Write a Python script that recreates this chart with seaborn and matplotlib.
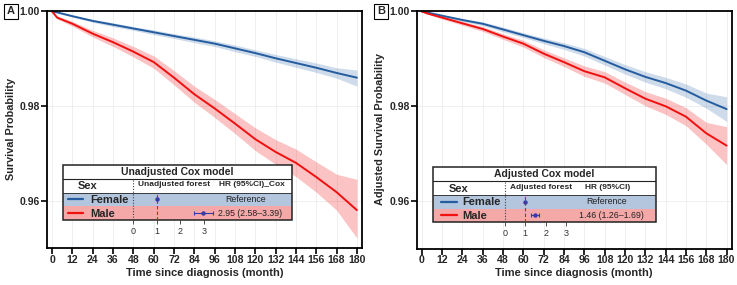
import numpy as np
import pandas as pd
import matplotlib
matplotlib.use("Agg")
import matplotlib.pyplot as plt
import matplotlib.transforms as mtransforms
from matplotlib.patches import Rectangle
import seaborn as sns

# ---- data ----
months = [0, 3, 12, 24, 36, 48, 60, 72, 84, 96, 108, 120, 132, 144, 156, 168, 180]

# panel A: unadjusted KM
a_female = [1.0, 0.9998, 0.9990, 0.9980, 0.9972, 0.9964, 0.9956, 0.9948, 0.9940, 0.9932, 0.9922, 0.9912, 0.9901, 0.9891, 0.9881, 0.9870, 0.9860]
a_female_lo = [1.0, 0.9997, 0.9988, 0.9977, 0.9968, 0.9960, 0.9951, 0.9943, 0.9934, 0.9926, 0.9915, 0.9905, 0.9893, 0.9882, 0.9871, 0.9859, 0.9842]
a_female_hi = [1.0, 0.9999, 0.9992, 0.9983, 0.9976, 0.9968, 0.9961, 0.9953, 0.9946, 0.9938, 0.9929, 0.9919, 0.9909, 0.9900, 0.9891, 0.9881, 0.9876]
a_male = [1.0, 0.9987, 0.9974, 0.9953, 0.9935, 0.9915, 0.9893, 0.9860, 0.9825, 0.9795, 0.9763, 0.9730, 0.9703, 0.9680, 0.9650, 0.9618, 0.9580]
a_male_lo = [1.0, 0.9984, 0.9969, 0.9946, 0.9926, 0.9904, 0.9880, 0.9845, 0.9808, 0.9776, 0.9742, 0.9706, 0.9677, 0.9651, 0.9618, 0.9580, 0.9521]
a_male_hi = [1.0, 0.9990, 0.9979, 0.9960, 0.9944, 0.9926, 0.9906, 0.9875, 0.9842, 0.9814, 0.9784, 0.9754, 0.9729, 0.9709, 0.9682, 0.9656, 0.9645]

# panel B: adjusted survival
b_female = [1.0, 0.9998, 0.9991, 0.9982, 0.9974, 0.9962, 0.9950, 0.9938, 0.9927, 0.9914, 0.9896, 0.9878, 0.9862, 0.9849, 0.9833, 0.9812, 0.9794]
b_female_lo = [1.0, 0.9997, 0.9989, 0.9979, 0.9970, 0.9957, 0.9945, 0.9932, 0.9920, 0.9906, 0.9887, 0.9868, 0.9851, 0.9837, 0.9819, 0.9796, 0.9768]
b_female_hi = [1.0, 0.9999, 0.9993, 0.9985, 0.9978, 0.9967, 0.9955, 0.9944, 0.9934, 0.9922, 0.9905, 0.9888, 0.9873, 0.9861, 0.9847, 0.9828, 0.9820]
b_male = [1.0, 0.9996, 0.9987, 0.9975, 0.9963, 0.9947, 0.9932, 0.9911, 0.9893, 0.9874, 0.9861, 0.9838, 0.9816, 0.9800, 0.9778, 0.9743, 0.9717]
b_male_lo = [1.0, 0.9995, 0.9984, 0.9971, 0.9958, 0.9941, 0.9925, 0.9903, 0.9884, 0.9863, 0.9849, 0.9825, 0.9801, 0.9783, 0.9759, 0.9720, 0.9677]
b_male_hi = [1.0, 0.9997, 0.9990, 0.9979, 0.9968, 0.9953, 0.9939, 0.9919, 0.9902, 0.9885, 0.9873, 0.9851, 0.9831, 0.9817, 0.9797, 0.9766, 0.9757]

# hazard ratios (male vs female): estimate, lower, upper
hr_a = [2.95, 2.58, 3.39]
hr_b = [1.46, 1.26, 1.69]

x_ticks = list(range(0, 181, 12))
y_ticks = [0.96, 0.98, 1.00]

BLUE = "#245ca0"
RED = "#f01010"
ROW_BLUE = "#b3c6de"
ROW_RED = "#f5a8a8"
DOT = "#3a3aa8"

sns.set_theme(style="whitegrid")
plt.rcParams["font.family"] = ["Liberation Sans", "DejaVu Sans"]
plt.rcParams["axes.edgecolor"] = "black"
plt.rcParams["grid.color"] = "#ececec"
plt.rcParams["grid.linewidth"] = 0.6

fig = plt.figure(figsize=(7.37, 2.85), dpi=100)
W, H = 737, 285


def px_rect(x0, y0, x1, y1):
    # pixel box (top-left origin) -> figure fraction rect
    return [x0 / W, 1 - y1 / H, (x1 - x0) / W, (y1 - y0) / H]


def draw_curves(ax, fem, fem_lo, fem_hi, mal, mal_lo, mal_hi, ylabel):
    df = pd.DataFrame({
        "month": months * 2,
        "surv": fem + mal,
        "Sex": ["Female"] * len(months) + ["Male"] * len(months),
    })
    ax.fill_between(months, fem_lo, fem_hi, color=BLUE, alpha=0.22, lw=0)
    ax.fill_between(months, mal_lo, mal_hi, color=RED, alpha=0.25, lw=0)
    sns.lineplot(data=df, x="month", y="surv", hue="Sex",
                 palette={"Female": BLUE, "Male": RED}, linewidth=1.4,
                 legend=False, ax=ax)
    ax.set_xlim(-3, 183)
    ax.set_ylim(0.9500, 1.0002)
    ax.set_xticks(x_ticks)
    ax.set_yticks(y_ticks)
    ax.set_yticklabels(["0.96", "0.98", "1.00"])
    ax.tick_params(axis="both", length=4, width=1.2, color="black",
                   labelsize=7.5, pad=1, bottom=True, left=True)
    ax.tick_params(axis="x", labelsize=7.6)
    for lab in ax.get_xticklabels() + ax.get_yticklabels():
        lab.set_fontweight("bold")
    for sp in ax.spines.values():
        sp.set_linewidth(1.3)
        sp.set_color("black")
    ax.set_xlabel("Time since diagnosis (month)", fontsize=8, fontweight="bold", labelpad=2)
    ax.set_ylabel(ylabel, fontsize=7.8, fontweight="bold", labelpad=3)
    ax.set_facecolor("white")


def draw_table(rect, xlim, title, forest_lab, hr_lab, hr, ref_x, hr_x,
               sex_x, line_x, name_x, forest_x, hdr_x):
    tab = fig.add_axes(rect)
    tab.set_xlim(*xlim)
    tab.set_ylim(0, 4)
    tab.set_facecolor("white")
    tab.grid(False)
    for sp in tab.spines.values():
        sp.set_visible(False)
    tr = mtransforms.blended_transform_factory(tab.transAxes, tab.transData)
    # row backgrounds and borders
    tab.add_patch(Rectangle((0, 1), 1, 1, transform=tr, fc=ROW_BLUE, ec="none"))
    tab.add_patch(Rectangle((0, 0), 1, 1, transform=tr, fc=ROW_RED, ec="none"))
    tab.add_patch(Rectangle((0, 0), 1, 4, transform=tr, fc="none", ec="#222222", lw=1.1, clip_on=False))
    tab.plot([0, 1], [3, 3], transform=tr, color="#222222", lw=0.8)
    tab.plot([0, 1], [2, 2], transform=tr, color="#222222", lw=0.6)
    # texts
    tab.text(0.5, 3.5, title, transform=tr, ha="center", va="center", fontsize=7.5, fontweight="bold")
    tab.text(sex_x, 2.45, "Sex", transform=tr, ha="left", va="center", fontsize=8, fontweight="bold")
    tab.text(forest_x, 2.55, forest_lab, transform=tr, ha="center", va="center", fontsize=6, fontweight="semibold")
    tab.text(hdr_x, 2.55, hr_lab, transform=tr, ha="center", va="center", fontsize=6, fontweight="semibold")
    tab.plot(line_x, [1.5, 1.5], transform=tr, color=BLUE, lw=1.6)
    tab.plot(line_x, [0.5, 0.5], transform=tr, color=RED, lw=1.6)
    tab.text(name_x, 1.45, "Female", transform=tr, ha="left", va="center", fontsize=8, fontweight="bold")
    tab.text(name_x, 0.45, "Male", transform=tr, ha="left", va="center", fontsize=8, fontweight="bold")
    tab.text(ref_x, 1.5, "Reference", transform=tr, ha="center", va="center", fontsize=6.3, color="#222222")
    tab.text(hr_x, 0.5, f"{hr[0]:.2f} ({hr[1]:.2f}\u2013{hr[2]:.2f})", transform=tr,
             ha="center", va="center", fontsize=6.3, color="#222222")
    # forest
    tab.vlines(0, 0, 3, colors="#444444", linestyles=(0, (1, 1.5)), lw=0.8)
    tab.vlines(1, 0, 2, colors=RED, linestyles=(0, (3, 2)), lw=0.8)
    tab.plot([1], [1.5], "o", ms=2.2, color=DOT)
    tab.errorbar([hr[0]], [0.5], xerr=[[hr[0] - hr[1]], [hr[2] - hr[0]]],
                 fmt="o", ms=2.2, color=DOT, ecolor=DOT, elinewidth=0.8, capsize=1.5, capthick=0.8)
    tab.set_xticks([0, 1, 2, 3])
    tab.set_yticks([])
    tab.tick_params(axis="x", length=3, width=0.6, color="#333333", labelsize=6.5,
                    labelcolor="#333333", pad=2, bottom=True)


ax_a = fig.add_axes(px_rect(47, 10.5, 362, 248))
draw_curves(ax_a, a_female, a_female_lo, a_female_hi, a_male, a_male_lo, a_male_hi,
            "Survival Probability")
ax_b = fig.add_axes(px_rect(416.7, 10.5, 731.7, 248.5))
draw_curves(ax_b, b_female, b_female_lo, b_female_hi, b_male, b_male_lo, b_male_hi,
            "Adjusted Survival Probability")

draw_table(px_rect(62.7, 165, 291.7, 220), (-3.004, 6.74), "Unadjusted Cox model",
           "Unadjusted forest", "HR (95%CI)_Cox", hr_a, ref_x=0.80, hr_x=0.818,
           sex_x=0.067, line_x=[0.023, 0.089], name_x=0.122, forest_x=0.486, hdr_x=0.825)
draw_table(px_rect(433.3, 167.3, 656, 222.3), (-3.478, 7.37), "Adjusted Cox model",
           "Adjusted forest", "HR (95%CI)", hr_b, ref_x=0.78, hr_x=0.80,
           sex_x=0.07, line_x=[0.033, 0.106], name_x=0.132, forest_x=0.482, hdr_x=0.784)

for lab, xc in [("A", 11), ("B", 381)]:
    fig.text(xc / W, 1 - 11.5 / H, lab, ha="center", va="center", fontsize=8, fontweight="bold",
             bbox=dict(boxstyle="square,pad=0.25", fc="white", ec="black", lw=0.8))

fig.savefig("out.png", dpi=100)
